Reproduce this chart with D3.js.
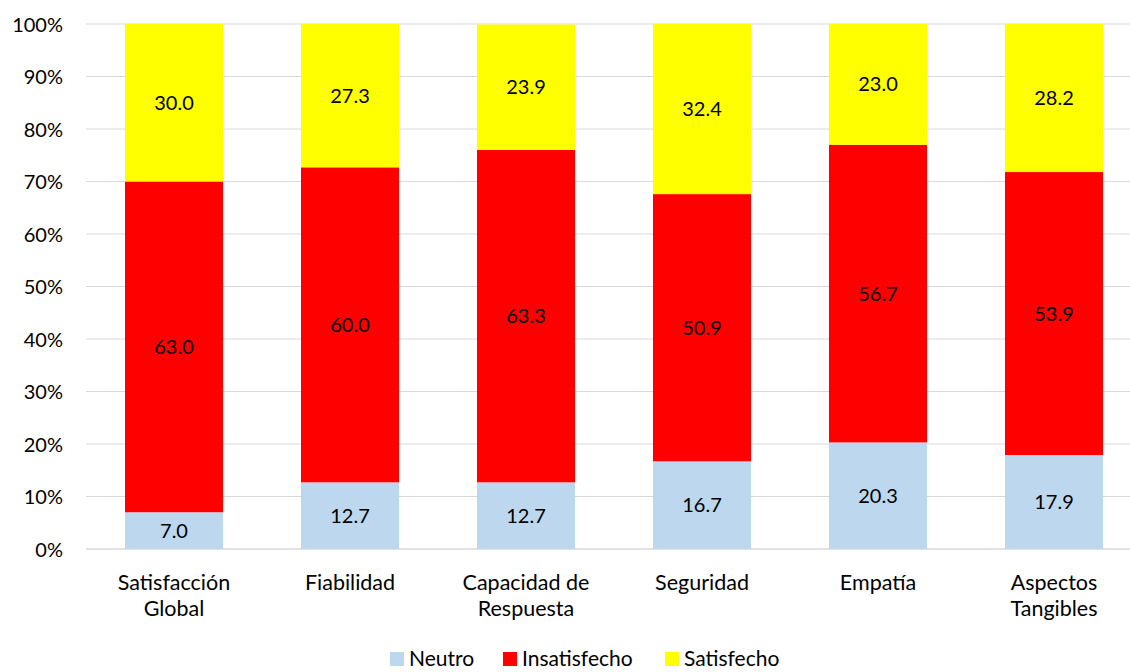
<!DOCTYPE html>
<html><head><meta charset="utf-8">
<script src="https://cdn.jsdelivr.net/npm/d3@7"></script>
<style>body{margin:0;background:#fff;} text{font-family:Lato, "Open Sans", sans-serif; fill:#000;}</style>
</head><body>
<svg id="c" width="1130" height="672"></svg>
<script>
const categories = [["Satisfacción","Global"],["Fiabilidad"],["Capacidad de","Respuesta"],["Seguridad"],["Empatía"],["Aspectos","Tangibles"]];
const seriesNames = ["Neutro","Insatisfecho","Satisfecho"];
const neutro = [7.0, 12.7, 12.7, 16.7, 20.3, 17.9];
const insatisfecho = [63.0, 60.0, 63.3, 50.9, 56.7, 53.9];
const satisfecho = [30.0, 27.3, 23.9, 32.4, 23.0, 28.2];
const colors = ["#BDD7EE","#FF0000","#FFFF00"];
const yTicks = [0,10,20,30,40,50,60,70,80,90,100];

const svg = d3.select("#c");
const keys = categories.map(c => c.join(" "));
const x = d3.scaleBand().domain(keys).range([86, 1142]).paddingInner(0.443).paddingOuter(0.2216);
const y = d3.scaleLinear().domain([0,100]).range([549, 24]);

// gridlines
svg.append("g").selectAll("line").data(yTicks).join("line")
  .attr("x1", 86).attr("x2", 1130)
  .attr("y1", d => y(d)).attr("y2", d => y(d))
  .attr("stroke", "#d9d9d9").attr("stroke-width", d => d===0 ? 1.5 : 1.2);

// y axis labels
const yAxis = d3.axisLeft(y).tickValues(yTicks).tickFormat(d => d + "%").tickSize(0).tickPadding(0);
const ya = svg.append("g").attr("transform", "translate(63,0)").call(yAxis);
ya.select(".domain").remove();
ya.selectAll("text").style("font-size","20px").attr("font-family","Lato, sans-serif").attr("fill","#000").attr("dy","0.35em");

const data = keys.map((k,i) => ({key:k, Neutro:neutro[i], Insatisfecho:insatisfecho[i], Satisfecho:satisfecho[i]}));
const stack = d3.stack().keys(seriesNames)(data);

const g = svg.append("g");
stack.forEach((s, si) => {
  g.selectAll(null).data(s).join("rect")
    .attr("x", d => x(d.data.key))
    .attr("width", x.bandwidth())
    .attr("y", d => y(d[1]))
    .attr("height", d => y(d[0]) - y(d[1]))
    .attr("fill", colors[si]);
  g.selectAll(null).data(s).join("text")
    .attr("x", d => x(d.data.key) + x.bandwidth()/2)
    .attr("y", d => (y(d[0]) + y(d[1]))/2)
    .attr("text-anchor","middle").attr("dy","0.35em")
    .style("font-size","20px")
    .text(d => d.data[seriesNames[si]].toFixed(1));
});

// x axis labels
const xl = svg.append("g");
categories.forEach((c, i) => {
  const cx = x(keys[i]) + x.bandwidth()/2;
  const t = xl.append("text")
    .attr("x", cx)
    .attr("y", 590)
    .attr("text-anchor","middle")
    .style("font-size","21.5px");
  c.forEach((line, j) => {
    t.append("tspan").attr("x", cx).attr("dy", j===0 ? 0 : 25.5).text(line);
  });
});

// legend
const legX = [390, 503, 665];
const leg = svg.append("g");
seriesNames.forEach((n, i) => {
  leg.append("rect").attr("x", legX[i]).attr("y", 652).attr("width", 14).attr("height", 14).attr("fill", colors[i]);
  leg.append("text").attr("x", legX[i] + 19).attr("y", 666).style("font-size","21px").text(n);
});
</script>
</body></html>
